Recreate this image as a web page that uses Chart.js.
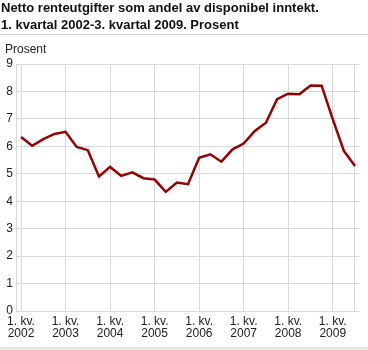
<!DOCTYPE html>
<html>
<head>
<meta charset="utf-8">
<script src="https://cdn.jsdelivr.net/npm/chart.js@4/dist/chart.umd.min.js"></script>
<style>
  body { margin: 0; background: #fff; font-family: "Liberation Sans", Arial, sans-serif; }
  #wrap { position: relative; width: 368px; height: 350px; overflow: hidden; }
  #title { position: absolute; left: 1px; top: -1px; font-size: 13px; font-weight: bold; line-height: 17px; color: #111; }
  #rule { position: absolute; left: 0; top: 34px; width: 368px; height: 1px; background: #cfcfcf; }
  #unit { position: absolute; left: 5px; top: 42px; font-size: 12px; color: #222; }
  #foot { position: absolute; left: 0; top: 347px; width: 368px; height: 3px; background: #e6e6e6; }
  #chart { position: absolute; left: 0; top: 0; }
</style>
</head>
<body>
<div id="wrap">
  <canvas id="chart" width="368" height="350"></canvas>
  <div id="title">Netto renteutgifter som andel av disponibel inntekt.<br>1. kvartal 2002-3. kvartal 2009. Prosent</div>
  <div id="rule"></div>
  <div id="unit">Prosent</div>
  <div id="foot"></div>
</div>
<script>
// kvartaler 2002K1 - 2009K3
const kvartal = [
    "2002K1", "2002K2", "2002K3", "2002K4",
    "2003K1", "2003K2", "2003K3", "2003K4",
    "2004K1", "2004K2", "2004K3", "2004K4",
    "2005K1", "2005K2", "2005K3", "2005K4",
    "2006K1", "2006K2", "2006K3", "2006K4",
    "2007K1", "2007K2", "2007K3", "2007K4",
    "2008K1", "2008K2", "2008K3", "2008K4",
    "2009K1", "2009K2", "2009K3"
];
const rente = [
    6.34, 6.02, 6.26, 6.45,
    6.53, 5.98, 5.86, 4.90,
    5.25, 4.92, 5.05, 4.84,
    4.79, 4.34, 4.68, 4.62,
    5.58, 5.71, 5.44, 5.89,
    6.10, 6.56, 6.86, 7.72,
    7.92, 7.90, 8.22, 8.21,
    6.99, 5.83, 5.28
];
const aar = ["2002", "2003", "2004", "2005", "2006", "2007", "2008", "2009"];
const yTicks = [0, 1, 2, 3, 4, 5, 6, 7, 8, 9];

const font = { family: "'Liberation Sans', Arial, sans-serif", size: 12, lineHeight: 1 };
const gridColor = "#d9d9d9";

new Chart(document.getElementById("chart"), {
    type: "line",
    data: {
        datasets: [{
            label: "Prosent",
            data: rente.map((v, i) => ({ x: i, y: v })),
            borderColor: "#990000",
            borderWidth: 2.5,
            pointRadius: 0,
            fill: false,
            tension: 0
        }]
    },
    options: {
        responsive: false,
        animation: false,
        events: [],
        layout: { padding: { top: 64, right: 8, left: 0, bottom: 0 } },
        plugins: { legend: { display: false }, tooltip: { enabled: false } },
        scales: {
            x: {
                type: "linear",
                min: -0.45,
                max: kvartal.length - 1 + 0.45,
                afterBuildTicks: (scale) => {
                    const t = [];
                    for (let i = 0; i < kvartal.length; i += 4) t.push({ value: i });
                    t.push({ value: kvartal.length - 1 });
                    scale.ticks = t;
                },
                afterFit: (scale) => { scale.height = 39; },
                grid: { color: gridColor, drawTicks: false },
                border: { display: false },
                ticks: {
                    padding: 5,
                    color: "#222",
                    font: font,
                    maxRotation: 0,
                    autoSkip: false,
                    callback: (v) => (v % 4 === 0 && aar[v / 4]) ? ["1. kv.", aar[v / 4]] : ""
                }
            },
            y: {
                min: 0,
                max: 9,
                afterBuildTicks: (scale) => { scale.ticks = yTicks.map(v => ({ value: v })); },
                afterFit: (scale) => { scale.width = 16; },
                grid: { color: gridColor, drawTicks: false },
                border: { display: true, color: gridColor },
                ticks: { padding: 3, color: "#222", font: { family: font.family, size: 12 } }
            }
        }
    }
});
</script>
</body>
</html>
